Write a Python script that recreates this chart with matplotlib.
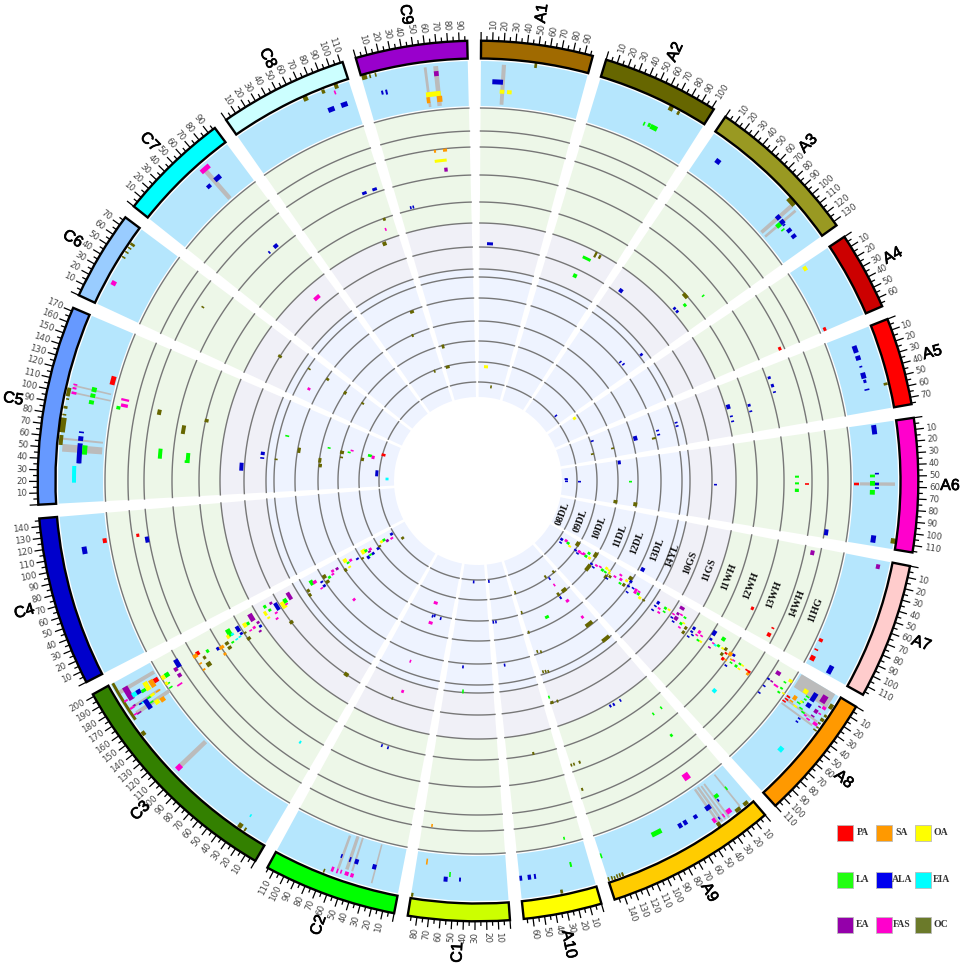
import numpy as np
import matplotlib
matplotlib.use('Agg')
import matplotlib.pyplot as plt
import matplotlib.patheffects as pe
from matplotlib.patches import Rectangle

# Chromosomes, clockwise from the top, lengths in Mb
chrom_names = ['A1', 'A2', 'A3', 'A4', 'A5', 'A6', 'A7', 'A8', 'A9', 'A10',
               'C1', 'C2', 'C3', 'C4', 'C5', 'C6', 'C7', 'C8', 'C9']
chrom_sizes = [97, 102, 134, 68, 76, 116, 118, 110, 149, 68,
               88, 116, 202, 147, 173, 78, 97, 112, 97]
chrom_colors = ['#A06A00', '#666600', '#999922', '#CC0000', '#FF0000', '#FF00CC', '#FFCCCC', '#FF9900',
                '#FFCC00', '#FFFF00', '#CCFF00', '#00FF00', '#338000', '#0000CC', '#6699FF', '#99CCFF',
                '#00FFFF', '#CCFFFF', '#9900CC']

track_names = ['08DL', '09DL', '10DL', '11DL', '12DL', '13DL', '14YL', '10GS', '11GS', '11WH', '12WH', '13WH', '14WH', '11HG']
track_edges = [84, 99, 119, 140, 160, 183, 204, 212, 234, 258, 279, 306, 334, 350, 373]
track_label_r = [91, 110, 130, 152, 171, 192, 208, 227, 248, 269, 292, 317, 342, 361]

# Trait colours
trait_names = ['PA', 'SA', 'OA', 'LA', 'ALA', 'EIA', 'EA', 'FAS', 'OC']
trait_colors = ['#FF0000', '#FF9900', '#FFFF00', '#00FF00', '#0000CC', '#00FFFF', '#9900AA', '#FF00CC', '#666600']
legend_colors = ['#FF0000', '#FF9900', '#FFFF00', '#22FF11', '#0000EE', '#00FFFF', '#9400AA', '#FF00CC', '#6B7A2A']

# QTL rows: start Mb, end Mb, inner radius, outer radius, trait (GR = grey link)
A1 = [(48.3,50.7,417,422,'OC'),(19.0,22.8,377,417,'GR'),(10.9,21.0,397,402,'ALA'),(18.4,22.9,388,392,'OA'),
      (25.5,30.0,388,392,'OA'),(11.7,21.2,236,239,'ALA'),(17.2,30.4,113,116,'OA'),(46.6,51.9,94,96,'OC')]
A2 = [(66.8,71.0,417,422,'OC'),(75.5,77.9,417,421,'OC'),(52.1,53.7,392,396,'LA'),(56.5,59.1,393,397,'LA'),
      (59.4,66.4,392,397,'LA'),(53.6,66.8,246,249,'LA'),(67.7,71.1,252,258,'OC'),(74.7,78.2,253,257,'OC'),
      (51.9,58.5,225,229,'LA')]
A3 = [(15.4,20.4,397,402,'ALA'),(88.8,97.2,417,422,'OC'),(94.1,97.9,377,417,'GR'),(100.3,102.9,377,417,'GR'),
      (93.6,98.0,397,402,'ALA'),(99.4,103.8,397,402,'ALA'),(104.0,105.6,398,400,'ALA'),(99.6,104.0,392,397,'LA'),
      (106.9,108.5,393,397,'LA'),(110.0,113.8,397,402,'ALA'),(117.0,120.8,397,402,'ALA'),(14.7,21.1,236,240,'ALA'),
      (88.4,96.5,276,280,'OC'),(107.1,108.8,290,293,'LA'),(99.5,104.2,270,273,'LA'),(93.9,97.7,260,263,'ALA'),
      (99.7,103.6,260,263,'ALA'),(116.9,121.7,205,208,'ALA'),(103.6,106.3,184,187,'ALA'),(111.1,113.8,185,188,'ALA'),
      (102.3,107.2,100,103,'ALA')]
A4 = [(0.0,9.2,114,116,'OA'),(2.3,6.8,388,392,'OA'),(64.3,68.0,377,380,'PA'),(64.0,68.0,328,331,'PA')]
A5 = [(12.0,18.9,397,402,'ALA'),(21.9,26.3,397,402,'ALA'),(32.2,33.2,398,401,'ALA'),(38.6,44.3,397,402,'ALA'),
      (45.5,48.6,398,401,'ALA'),(54.5,55.8,397,402,'ALA'),(52.8,55.2,417,421,'OC'),(11.9,15.2,308,310,'ALA'),
      (21.9,26.0,308,311,'ALA'),(31.4,33.0,308,311,'ALA'),(30.0,36.7,259,263,'ALA'),(46.9,48.8,260,263,'ALA'),
      (54.4,56.3,260,263,'ALA'),(37.6,41.2,280,283,'ALA'),(46.9,48.7,280,283,'ALA'),(32.8,35.3,205,208,'ALA'),
      (39.4,41.8,205,208,'ALA'),(37.6,40.3,185,188,'ALA'),(46.1,48.8,185,188,'ALA'),(50.3,54.5,179,183,'OC'),
      (36.8,47.6,161,165,'ALA'),(50.1,54.6,137,140,'OC'),(52.2,57.6,116,119,'OC'),(13.1,17.2,120,122,'ALA')]
A6 = [(1.4,10.2,397,402,'ALA'),(0.0,10.1,141,144,'ALA'),(43.0,48.7,87,89,'ALA'),(55.7,58.8,382,417,'GR'),
      (56.1,58.7,376,381,'PA'),(48.3,50.9,392,397,'LA'),(47.0,47.9,397,401,'ALA'),(54.4,58.9,392,397,'LA'),
      (56.0,58.5,397,401,'ALA'),(60.6,61.5,397,401,'ALA'),(63.0,67.5,392,397,'LA'),(106.0,112.9,397,402,'ALA'),
      (106.2,111.0,417,422,'OC'),(48.1,50.5,317,321,'LA'),(56.0,58.4,317,321,'LA'),(63.5,67.4,317,321,'LA'),
      (56.9,58.8,327,331,'PA'),(106.5,112.9,350,354,'ALA'),(59.2,61.3,236,239,'ALA'),(54.0,58.1,151,154,'LA'),
      (54.4,59.4,100,103,'ALA'),(45.1,49.4,87,90,'ALA'),(53.7,58.0,87,90,'ALA'),(105.2,114.6,157,161,'OC'),
      (106.3,115.4,137,141,'OC')]
A7 = [(3.8,9.0,340,344,'EA'),(4.1,8.4,407,411,'EA'),(108.3,116.5,397,402,'ALA'),(107.8,113.1,376,381,'PA'),
      (100.7,101.7,376,380,'PA'),(89.1,92.5,376,380,'PA'),(107.8,112.4,327,331,'PA'),(100.6,102.1,328,331,'PA'),
      (88.6,92.8,301,304,'PA'),(108.8,116.9,185,189,'ALA')]
A8 = [(68.4,73.2,314,318,'EIA'),(68.0,72.9,402,407,'EIA'),(9.6,13.9,354,359,'EA'),(21.5,23.6,350,353,'ALA'),
      (22.1,23.5,354,357,'EA'),(23.0,25.1,359,364,'FAS'),(30.7,32.1,351,353,'ALA'),(39.6,41.1,351,353,'ALA'),
      (15.3,16.6,366,368,'LA'),(10.0,13.3,369,373,'OA'),(22.0,24.0,366,369,'LA'),(26.9,28.9,366,369,'LA'),
      (25.5,26.9,371,373,'OA'),(0.0,15.0,377,416,'GR'),(34.2,36.1,376,414,'GR'),(28.9,30.8,378,416,'GR'),
      (10.1,14.6,387,392,'OA'),(8.4,17.2,397,402,'ALA'),(5.6,13.0,406,412,'EA'),(15.2,16.2,392,396,'LA'),
      (18.3,19.9,392,395,'LA'),(21.6,23.2,391,394,'LA'),(9.1,14.0,417,421,'OC'),(19.7,24.1,397,402,'ALA'),
      (22.1,24.1,390,393,'OA'),(14.6,17.6,412,416,'FAS'),(16.9,17.8,408,411,'EA'),(20.8,24.5,407,411,'EA'),
      (22.0,23.2,412,415,'FAS'),(24.4,27.4,417,421,'OC'),(20.2,22.6,418,421,'OC'),(29.1,30.7,417,420,'OC'),
      (33.4,34.3,418,421,'OC'),(36.6,37.5,417,421,'OC'),(31.0,34.0,413,418,'FAS'),(27.2,28.7,407,411,'EA'),
      (21.1,25.7,382,386,'SA'),(24.7,26.0,388,392,'LA'),(25.1,27.1,376,380,'PA'),(28.6,29.9,376,380,'PA'),
      (31.7,32.7,375,379,'PA'),(27.6,29.1,393,397,'LA'),(27.2,28.8,381,385,'SA'),(29.0,30.7,387,391,'OA'),
      (29.6,31.2,397,401,'LA'),(32.0,33.6,405,409,'FAS'),(30.8,32.0,401,404,'FAS'),(36.7,37.7,398,401,'ALA'),
      (40.4,41.3,398,401,'ALA'),(21.7,31.6,101,103,'ALA'),(36.3,41.2,102,104,'ALA'),(17.0,26.5,106,107,'FAS'),
      (20.3,29.4,109,110,'LA'),(27.0,33.7,112,113,'OA'),(2.1,17.1,116,120,'OC'),(26.7,33.0,119,120,'ALA'),
      (32.4,36.5,122,124,'ALA'),(22.6,30.8,123,124,'FAS'),(24.9,29.9,126,127,'FAS'),(20.6,28.4,128,129,'FAS'),
      (11.0,18.7,132,133,'LA'),(22.7,30.4,131,132,'LA'),(21.5,29.0,135,136,'OA'),(1.5,16.0,137,141,'OC'),
      (38.7,58.5,138,142,'OC'),(32.3,37.6,140,141,'ALA'),(37.7,41.2,143,145,'ALA'),(28.2,33.4,145,146,'FAS'),
      (25.8,30.0,149,150,'FAS'),(28.1,34.7,152,154,'LA'),(18.7,25.2,155,156,'OA'),(20.6,25.3,158,160,'OA'),
      (26.2,30.1,160,161,'OA'),(28.9,33.7,156,157,'LA'),(30.5,36.7,162,164,'OC'),(34.9,44.3,158,161,'OC'),
      (39.8,42.9,161,162,'ALA'),(24.7,29.2,166,168,'FAS'),(14.5,19.0,170,172,'FAS'),(21.7,27.6,173,174,'FAS'),
      (30.4,34.7,174,176,'LA'),(17.0,22.6,178,180,'OA'),(6.9,15.3,179,183,'OC'),(27.0,34.0,178,180,'OC'),
      (13.8,19.3,182,184,'ALA'),(24.9,29.1,183,184,'ALA'),(37.3,40.0,185,187,'ALA'),(23.8,26.4,188,189,'ALA'),
      (22.2,27.4,191,193,'FAS'),(27.1,32.3,192,193,'FAS'),(26.0,31.2,195,197,'LA'),(30.4,35.5,199,200,'OA'),
      (30.5,34.2,203,205,'OC'),(22.6,25.8,195,196,'FAS'),(18.3,24.1,216,219,'ALA'),(27.2,30.1,216,218,'ALA'),
      (35.5,38.4,216,218,'ALA'),(26.6,30.0,221,222,'FAS'),(32.6,35.9,223,224,'FAS'),(19.7,24.1,225,228,'LA'),
      (19.1,22.4,230,231,'OA'),(26.6,29.4,227,228,'LA'),(4.6,9.8,238,243,'EA'),(16.0,20.2,239,241,'EA'),
      (22.6,28.9,239,243,'EA'),(15.2,17.8,243,244,'FAS'),(21.4,23.6,236,237,'FAS'),(27.1,29.7,236,238,'ALA'),
      (31.4,33.5,240,241,'ALA'),(15.6,18.6,247,249,'LA'),(25.9,30.0,247,249,'LA'),(23.8,26.3,249,251,'OA'),
      (33.1,35.1,248,250,'FAS'),(26.9,31.8,253,256,'OC'),(34.1,39.1,254,256,'OC'),(20.4,25.2,260,263,'ALA'),
      (27.2,30.1,261,262,'ALA'),(36.4,38.3,261,262,'ALA'),(20.5,25.2,267,269,'FAS'),(27.3,29.6,267,268,'FAS'),
      (24.4,26.8,271,273,'FAS'),(31.4,34.2,274,275,'OA'),(32.0,34.7,271,272,'LA'),(31.1,33.0,263,265,'ALA'),
      (9.1,16.3,279,283,'ALA'),(20.4,23.9,280,283,'ALA'),(10.2,15.4,290,294,'LA'),(24.1,25.4,285,287,'FAS'),
      (24.0,26.7,288,289,'EIA'),(21.9,25.3,291,292,'LA'),(22.0,24.6,296,297,'OA'),(19.7,23.9,298,301,'OC'),
      (31.3,33.0,284,286,'EA'),(27.8,32.0,298,300,'OC'),(24.8,27.3,301,303,'PA'),(21.2,26.2,304,308,'SA'),
      (20.9,24.1,308,311,'ALA'),(31.9,36.0,301,304,'PA'),(32.3,33.9,305,306,'SA'),(27.8,29.4,309,311,'SA'),
      (27.0,28.7,312,313,'FAS'),(31.1,32.7,311,312,'LA'),(37.4,39.5,308,310,'ALA'),(30.1,33.3,317,318,'LA'),
      (31.4,33.4,321,322,'OA'),(25.8,28.2,319,320,'LA'),(25.7,27.7,322,323,'OA'),(27.3,29.2,328,329,'PA'),
      (27.0,30.0,331,332,'PA'),(29.8,32.9,330,333,'SA')]
A9 = [(23.6,25.4,290,293,'LA'),(10.7,12.4,290,293,'LA'),(21.1,24.2,318,321,'LA'),(65.9,68.8,260,262,'ALA'),
      (60.5,63.4,260,263,'ALA'),(49.8,51.7,260,263,'ALA'),(147.5,149.0,298,300,'OC'),(144.0,145.3,298,300,'OC'),
      (135.9,138.4,298,300,'OC'),(143.9,146.2,324,327,'OC'),(32.8,39.8,358,365,'FAS'),(143.8,149.0,232,235,'OC'),
      (135.9,138.6,233,235,'OC'),(147.5,149.0,226,229,'LA'),(143.1,145.0,200,203,'OC'),(138.2,140.1,201,203,'OC'),
      (133.5,135.4,202,204,'OC'),(140.7,142.8,179,182,'OC'),(133.6,135.6,181,183,'OC'),(143.9,147.9,158,161,'OC'),
      (144.7,149.0,137,140,'OC'),(85.9,95.8,151,154,'LA'),(18.1,23.9,170,173,'FAS'),(21.7,30.2,148,151,'FAS'),
      (32.9,38.2,142,144,'ALA'),(31.6,38.9,137,141,'OC'),(8.6,23.1,137,141,'OC'),(27.1,31.0,128,130,'FAS'),
      (27.2,31.4,120,122,'ALA'),(33.3,39.7,116,118,'OC'),(3.1,9.5,117,119,'OC'),(144.0,149.0,116,119,'OC'),
      (10.5,27.2,179,183,'OC'),(3.0,19.1,201,205,'OC'),(35.3,37.8,377,418,'GR'),(31.8,34.3,377,419,'GR'),
      (28.6,30.5,378,419,'GR'),(25.0,26.9,378,420,'GR'),(11.3,12.9,377,418,'GR'),(21.3,25.7,393,397,'LA'),
      (24.1,25.0,398,401,'ALA'),(11.0,12.0,393,397,'LA'),(33.6,39.3,397,402,'ALA'),(20.4,25.2,412,417,'FAS'),
      (12.7,18.1,417,421,'OC'),(4.0,8.8,417,421,'OC'),(37.0,40.1,411,416,'FAS'),(33.2,34.1,413,416,'ALA'),
      (28.4,29.7,413,417,'FAS'),(35.4,39.0,417,422,'OC'),(49.2,53.0,398,402,'ALA'),(65.9,69.7,397,402,'ALA'),
      (60.3,64.0,397,402,'ALA'),(85.6,95.9,392,397,'LA'),(147.5,149.0,392,397,'LA'),(147.8,149.0,417,421,'OC'),
      (144.8,145.7,417,421,'OC'),(142.4,143.3,418,422,'OC'),(139.8,140.7,417,421,'OC'),(137.3,138.2,417,421,'OC'),
      (134.2,136.0,417,421,'OC')]
A10 = [(30.2,33.0,277,279,'OC'),(51.7,54.4,185,187,'ALA'),(65.0,68.0,141,143,'ALA'),(57.7,61.2,141,143,'ALA'),
       (65.0,68.0,100,102,'ALA'),(17.5,18.5,366,369,'LA'),(16.8,18.7,392,397,'LA'),(65.5,68.0,397,402,'ALA'),
       (57.0,60.2,397,402,'ALA'),(52.3,54.2,397,402,'ALA'),(30.2,32.6,417,421,'OC')]
C1 = [(77.1,78.4,381,387,'SA'),(53.7,54.9,392,397,'LA'),(56.2,60.0,397,402,'ALA'),(43.6,45.4,397,401,'ALA'),
      (86.0,88.0,417,421,'OC'),(77.0,78.1,346,349,'SA'),(56.2,59.6,185,188,'ALA'),(53.2,55.6,209,213,'LA'),
      (41.8,45.5,100,102,'ALA')]
C2 = [(57.1,59.6,377,412,'GR'),(49.0,52.2,375,410,'GR'),(44.5,46.4,375,410,'GR'),(24.7,25.9,376,416,'GR'),
      (58.7,59.9,397,401,'ALA'),(49.9,51.2,397,402,'ALA'),(42.3,46.0,397,402,'ALA'),(24.8,28.6,397,402,'ALA'),
      (69.2,70.1,417,421,'OC'),(61.8,64.2,412,417,'FAS'),(57.6,59.1,412,417,'FAS'),(54.4,55.4,412,416,'FAS'),
      (47.7,51.3,412,416,'FAS'),(42.9,45.9,412,416,'FAS'),(58.5,59.9,280,283,'ALA'),(49.9,51.2,280,283,'ALA'),
      (68.6,70.2,232,235,'OC'),(55.3,59.8,222,225,'FAS'),(62.2,64.2,191,194,'FAS'),(47.9,59.6,128,130,'FAS'),
      (47.8,52.2,141,144,'ALA'),(43.1,46.7,140,143,'ALA'),(25.9,29.4,141,144,'ALA'),(44.3,54.5,148,151,'FAS')]
C3 = [(189.9,193.7,376,416,'GR'),(172.9,175.4,381,419,'GR'),(165.7,169.5,373,413,'GR'),(102.5,107.0,377,413,'GR'),
      (163.2,202.0,416,419,'OC'),(180.2,193.7,406,412,'EA'),(181.0,185.4,402,407,'EIA'),(181.0,185.4,397,402,'ALA'),
      (180.0,183.2,392,397,'LA'),(179.1,188.1,387,392,'OA'),(179.1,187.0,381,386,'SA'),(181.6,186.3,376,381,'PA'),
      (180.2,185.0,364,369,'LA'),(180.0,184.7,369,373,'OA'),(173.9,175.0,368,372,'LA'),(173.7,177.1,370,373,'OA'),
      (181.4,183.2,413,417,'FAS'),(173.7,175.5,409,412,'EA'),(172.9,174.7,411,416,'FAS'),(172.3,173.2,401,406,'ALA'),
      (172.1,173.1,399,403,'EIA'),(172.2,174.1,391,396,'LA'),(172.3,174.9,387,392,'OA'),(173.1,174.4,380,385,'SA'),
      (163.5,173.6,396,401,'ALA'),(167.7,168.7,392,396,'LA'),(163.1,167.7,387,392,'OA'),(162.0,166.6,381,386,'SA'),
      (165.8,167.1,408,413,'EA'),(166.7,167.9,412,416,'FAS'),(146.9,151.1,417,421,'OC'),(169.1,170.4,368,372,'LA'),
      (166.1,167.9,358,364,'FAS'),(180.3,184.6,354,358,'EA'),(182.5,191.8,349,354,'ALA'),(173.1,177.3,354,358,'EA'),
      (102.1,107.0,411,417,'FAS'),(182.6,187.2,327,331,'PA'),(181.4,185.9,330,335,'SA'),(179.0,183.0,319,320,'LA'),
      (174.6,178.5,324,327,'OC'),(164.7,170.1,323,328,'OC'),(172.4,174.3,331,333,'SA'),(164.3,166.5,331,334,'SA'),
      (174.7,178.8,308,311,'ALA'),(173.6,177.7,303,308,'SA'),(164.9,168.2,305,308,'SA'),(174.1,178.3,297,301,'OC'),
      (167.7,171.9,297,301,'OC'),(181.0,191.4,289,294,'LA'),(180.6,184.0,288,291,'EIA'),(172.1,174.6,293,294,'LA'),
      (173.1,174.4,288,289,'EIA'),(173.6,174.9,284,285,'EIA'),(180.5,188.5,280,284,'ALA'),(175.0,178.6,280,283,'ALA'),
      (179.9,185.0,293,296,'OA'),(180.7,187.2,272,276,'OA'),(181.2,185.8,269,272,'LA'),(182.6,194.0,262,267,'EA'),
      (173.5,176.2,277,279,'OC'),(172.2,176.0,266,269,'FAS'),(175.2,179.0,260,263,'EA'),(168.9,172.8,260,263,'ALA'),
      (163.4,167.9,276,280,'OC'),(172.5,174.3,271,273,'FAS'),(163.6,166.5,264,265,'EA'),(189.2,194.3,246,249,'LA'),
      (179.0,186.1,249,252,'OA'),(189.6,193.8,239,242,'EA'),(181.3,185.4,244,246,'LA'),(175.9,188.7,235,239,'ALA'),
      (172.9,176.0,240,242,'FAS'),(164.7,167.8,243,244,'FAS'),(172.9,176.0,249,251,'OA'),(172.8,184.8,228,233,'OA'),
      (179.2,187.0,225,229,'LA'),(179.5,193.1,219,223,'EA'),(176.1,178.4,227,228,'FAS'),(145.7,151.1,232,236,'OC'),
      (180.7,191.0,193,197,'LA'),(180.4,186.9,190,194,'FAS'),(173.2,179.4,201,203,'OC'),(164.8,171.0,202,204,'OC'),
      (174.4,178.4,185,187,'ALA'),(164.3,169.7,185,187,'ALA'),(164.5,167.1,189,190,'FAS'),(178.6,186.9,179,183,'OC'),
      (166.7,173.7,179,183,'OC'),(173.0,178.7,176,178,'LA'),(175.2,179.6,172,173,'FAS'),(180.7,186.6,170,172,'FAS'),
      (179.7,185.7,165,167,'EA'),(184.3,194.1,153,157,'OA'),(178.3,183.2,153,154,'LA'),(179.5,186.2,149,151,'FAS'),
      (173.9,179.2,143,144,'ALA'),(165.5,173.4,158,161,'OC'),(167.8,172.7,154,155,'OA'),(177.9,191.0,132,137,'OA'),
      (179.1,186.7,131,133,'LA'),(172.4,178.2,129,130,'EA'),(176.0,183.9,127,128,'FAS'),(158.7,168.1,133,134,'ALA'),
      (160.7,168.6,127,128,'ALA'),(164.5,172.8,120,121,'ALA'),(167.2,172.7,138,140,'OC'),(163.0,168.8,130,131,'LA'),
      (168.6,175.1,117,119,'OC'),(176.4,185.2,113,115,'OA'),(176.8,185.9,110,112,'LA'),(168.6,177.9,108,109,'EA'),
      (180.1,190.1,100,103,'ALA'),(168.0,175.3,103,104,'FAS'),(143.1,153.7,93,96,'OC'),(101.8,107.6,170,173,'FAS'),
      (24.3,26.7,315,317,'EIA'),(24.5,25.8,403,406,'EIA'),(25.7,29.9,416,421,'OC'),(21.3,23.1,417,421,'OC'),
      (21.8,29.3,232,236,'OC')]
C4 = [(109.8,116.8,397,402,'ALA'),(117.0,121.7,376,380,'PA'),(117.6,121.2,343,346,'PA'),(109.6,116.4,334,338,'ALA')]
C5 = [(47.0,54.0,377,417,'GR'),(57.8,59.7,377,418,'GR'),(107.1,108.7,377,415,'GR'),(100.7,102.3,376,415,'GR'),
      (37.1,56.0,397,402,'ALA'),(58.3,62.7,397,402,'ALA'),(65.9,67.1,397,402,'ALA'),(45.6,54.5,392,397,'LA'),
      (52.9,61.9,417,421,'OC'),(64.4,77.6,416,422,'OC'),(79.8,81.0,417,421,'OC'),(85.9,88.3,417,421,'OC'),
      (94.2,95.4,417,420,'OC'),(97.3,105.1,417,421,'OC'),(100.1,102.5,411,416,'FAS'),(104.7,106.6,412,416,'FAS'),
      (108.4,109.7,412,416,'FAS'),(106.3,110.8,392,397,'LA'),(100.8,104.6,392,397,'LA'),(94.3,98.1,392,397,'LA'),
      (117.4,126.1,376,381,'PA'),(94.5,98.0,365,369,'LA'),(97.9,101.4,358,365,'FAS'),(104.4,106.8,358,366,'FAS'),
      (97.5,103.7,324,328,'OC'),(46.8,58.7,317,321,'LA'),(80.0,91.0,297,301,'OC'),(43.7,56.7,289,293,'LA'),
      (100.7,105.3,276,280,'OC'),(36.8,49.5,235,239,'ALA'),(65.6,71.4,215,219,'ALA'),(59.3,61.6,215,219,'ALA'),
      (59.8,61.6,202,204,'OC'),(106.9,108.9,194,198,'LA'),(79.0,90.1,180,183,'OC'),(63.9,75.0,158,161,'OC'),
      (52.9,60.9,157,160,'OC'),(101.2,104.5,151,154,'LA'),(94.3,103.3,137,141,'OC'),(82.8,87.4,137,140,'OC'),
      (101.0,104.8,131,133,'LA'),(108.3,111.3,128,131,'FAS'),(84.9,95.6,116,119,'OC'),(102.8,111.9,109,113,'LA'),
      (98.2,109.9,106,109,'FAS'),(116.8,127.1,96,100,'PA'),(37.8,60.2,100,103,'ALA'),(23.1,34.2,90,92,'EIA'),
      (18.8,34.4,402,406,'EIA'),(37.1,40.2,398,401,'ALA'),(43.7,47.1,290,294,'LA'),(55.3,61.6,157,160,'OC')]
C6 = [(21.3,25.5,412,417,'FAS'),(60.8,63.2,416,421,'OC'),(57.5,58.4,417,421,'OC'),(53.0,53.9,417,421,'OC'),
      (47.4,48.9,417,421,'OC'),(47.8,48.9,324,327,'OC'),(45.6,49.9,232,236,'OC'),(56.0,57.8,201,204,'OC'),
      (57.3,62.9,180,183,'OC'),(21.2,26.4,191,194,'FAS'),(52.8,60.7,158,161,'OC'),(56.6,62.1,138,140,'OC')]
C7 = [(58.5,60.6,308,311,'ALA'),(67.7,73.3,308,312,'ALA'),(61.6,71.9,242,246,'FAS'),(64.6,69.0,376,416,'GR'),
      (62.8,72.5,412,417,'FAS'),(67.4,74.3,397,402,'ALA'),(57.3,61.7,397,401,'ALA')]
C8 = [(85.3,93.6,180,183,'OC'),(68.2,72.9,158,161,'OC'),(98.1,101.7,417,422,'OC'),(96.5,97.4,412,416,'FAS'),
      (85.8,88.8,417,421,'OC'),(68.0,72.3,417,422,'OC'),(98.1,104.4,397,402,'ALA'),(85.0,91.3,397,402,'ALA'),
      (85.3,91.0,308,311,'ALA'),(98.6,104.3,308,311,'ALA'),(98.4,102.1,277,279,'OC'),(96.6,98.0,267,269,'FAS'),
      (85.4,91.4,253,257,'OC'),(85.3,90.6,117,119,'OC')]
C9 = [(14.5,15.8,280,283,'ALA'),(18.0,19.4,280,283,'ALA'),(6.6,13.8,137,141,'OC'),(1.6,14.4,117,119,'OC'),
      (0.3,5.1,417,422,'OC'),(7.1,8.6,417,421,'OC'),(12.6,13.5,417,421,'OC'),(14.1,16.0,398,402,'ALA'),
      (18.1,20.0,397,402,'ALA'),(56.9,59.5,377,417,'GR'),(65.6,70.0,377,417,'GR'),(65.6,69.9,407,412,'EA'),
      (55.7,70.0,387,392,'OA'),(55.6,58.9,381,387,'SA'),(65.9,71.1,381,387,'SA'),(56.1,58.4,331,334,'SA'),
      (66.4,71.0,331,334,'SA'),(55.4,69.5,321,324,'OA'),(65.5,69.6,311,315,'EA')]
chrom_tiles = [A1, A2, A3, A4, A5, A6, A7, A8, A9, A10, C1, C2, C3, C4, C5, C6, C7, C8, C9]

# Layout of the circle, in figure pixels
W, H = 964, 967
CX, CY, RMAX = 478, 481, 478
DEG_PER_MB = 0.1517
GAP_DEG = 1.797
START_DEG = 0.4

plt.rcParams['font.family'] = 'DejaVu Sans'
fig = plt.figure(figsize=(W / 100, H / 100), dpi=100)
ax = fig.add_axes([(CX - RMAX) / W, (H - CY - RMAX) / H, 2 * RMAX / W, 2 * RMAX / H], projection='polar')
ax.set_theta_zero_location('N')
ax.set_theta_direction(-1)
ax.set_ylim(0, RMAX)
ax.set_axis_off()

starts = []
t = START_DEG
for size in chrom_sizes:
    starts.append(t)
    t += size * DEG_PER_MB + GAP_DEG
starts = np.array(starts)


def mb_to_theta(i, mb):
    return np.radians(starts[i] + np.asarray(mb) * DEG_PER_MB)


def ring(i, r0, r1, **kw):
    a, b = mb_to_theta(i, 0), mb_to_theta(i, chrom_sizes[i])
    ax.bar((a + b) / 2, r1 - r0, width=b - a, bottom=r0, align='center', **kw)


zones = [(84, 212, '#EEF3FF'), (212, 258, '#F0F0F7'), (258, 373, '#EDF7E8'), (375, 420, '#B5E6FD')]
color_of = dict(zip(trait_names, trait_colors))
color_of['GR'] = '#BBBBBB'

for i, name in enumerate(chrom_names):
    for r0, r1, col in zones:
        ring(i, r0, r1, color=col, linewidth=0, zorder=1)
    th = np.linspace(mb_to_theta(i, 0), mb_to_theta(i, chrom_sizes[i]), 80)
    for r in track_edges[1:]:
        ax.plot(th, np.full_like(th, r), color='#777777', lw=1.0, zorder=2)

    # grey links sit under the coloured tiles
    rows = sorted(chrom_tiles[i], key=lambda row: row[4] != 'GR')
    for mb0, mb1, r0, r1, trait in rows:
        a, b = mb_to_theta(i, mb0), mb_to_theta(i, mb1)
        mid_r = (r0 + r1) / 2
        # keep narrow tiles visible at this resolution
        width = max(b - a, 1.6 / mid_r)
        height = max(r1 - r0, 3.0)
        ax.bar((a + b) / 2, height, width=width, bottom=mid_r - height / 2, color=color_of[trait], linewidth=0,
               zorder=3 if trait == 'GR' else 4)

    ring(i, 422.5, 440.3, facecolor=chrom_colors[i], edgecolor='black', linewidth=1.7, zorder=5)

    # scale ticks and labels
    mbs = np.arange(0, chrom_sizes[i] + 1, 5)
    minor = mbs[mbs % 10 != 0]
    major = mbs[mbs % 10 == 0]
    ax.vlines(mb_to_theta(i, minor), 440, 445, color='black', lw=0.9, zorder=5)
    ax.vlines(mb_to_theta(i, major), 440, 449, color='black', lw=0.9, zorder=5)
    for mb in major[1:]:
        deg = np.degrees(mb_to_theta(i, mb))
        right = deg < 180
        ax.text(np.radians(deg), 451, str(mb), fontsize=6.2, color='#444444', va='center',
                ha='left' if right else 'right', rotation=(90 - deg) if right else (270 - deg),
                rotation_mode='anchor')

    mid = np.degrees(mb_to_theta(i, chrom_sizes[i] / 2))
    ax.text(np.radians(mid), 472, name, family='Liberation Sans', fontsize=11.5, color='black', ha='center', va='center',
            rotation=(90 - mid) if mid < 180 else (270 - mid), rotation_mode='anchor',
            path_effects=[pe.withStroke(linewidth=0.5, foreground='black')])

# track names sit in the A7 sector
label_deg = 111.0
for name, r in zip(track_names, track_label_r):
    ax.text(np.radians(label_deg), r, name, family='Liberation Serif', weight='bold', fontsize=7.5,
            color='#111111', ha='center', va='center', rotation=180 - label_deg, rotation_mode='anchor', zorder=6)

# legend, laid out in figure pixels
leg = fig.add_axes([0, 0, 1, 1])
leg.set_xlim(0, W)
leg.set_ylim(H, 0)
leg.set_axis_off()
leg.patch.set_alpha(0)
col_x = [837, 876, 915]
row_y = [825, 872, 917]
text_x = [863, 902, 941]
for k, (name, col) in enumerate(zip(trait_names, legend_colors)):
    c, r = k % 3, k // 3
    leg.add_patch(Rectangle((col_x[c], row_y[r]), 15.5, 15.5, facecolor=col, edgecolor='#BBBBBB', linewidth=0.6))
    leg.text(text_x[c], row_y[r] + 7.5, name, family='Liberation Serif', weight='bold', fontsize=7,
             color='#333333', ha='center', va='center')

fig.savefig('out.png', dpi=100)
